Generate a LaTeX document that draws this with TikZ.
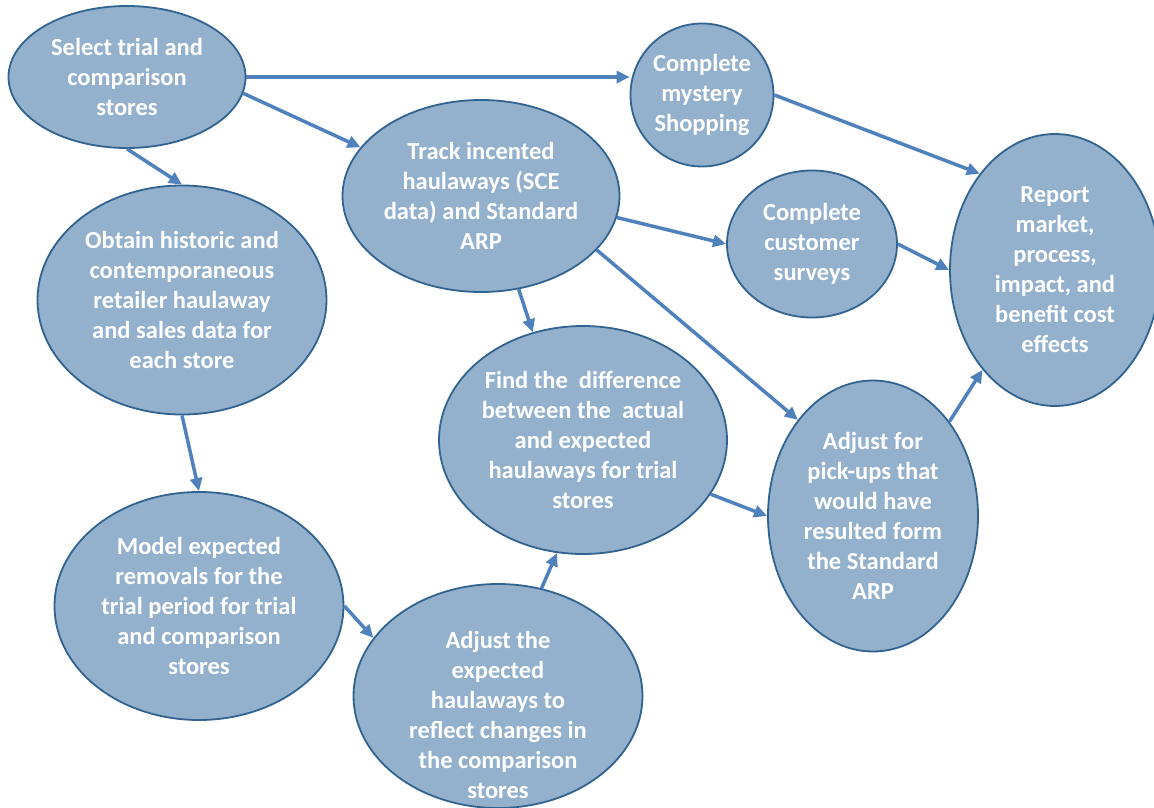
\documentclass[tikz,border=0pt]{standalone}
\usepackage{fontspec}
\setmainfont{Carlito}
\usepackage{xcolor}
\usepackage{tikz}
\usetikzlibrary{arrows.meta,shapes.geometric}
\definecolor{stepfill}{RGB}{147,176,204}
\definecolor{stepline}{RGB}{49,99,145}
\definecolor{flowblue}{RGB}{79,129,189}

\begin{document}
\begin{tikzpicture}[x=1pt, y=-1pt]
    \tikzstyle{bubble}=[ellipse, draw=stepline, line width=1.8pt, fill=stepfill, text=white, align=center, inner sep=0pt, font=\bfseries\fontsize{24.5}{30}\selectfont]
    \tikzstyle{flow}=[draw=flowblue, line width=3.5pt, -{Triangle[length=13pt, width=12pt]}]
    \useasboundingbox (0,0) rectangle (1154,808);
    \node[bubble, minimum width=237pt, minimum height=142pt] (select) at (127,77) {Select trial and\\comparison\\stores};
    \node[bubble, minimum width=143pt, minimum height=143pt] (shop) at (702,95) {Complete\\mystery\\Shopping};
    \node[bubble, minimum width=277pt, minimum height=192pt] (track) at (481,196) {Track incented\\haulaways (SCE\\data) and Standard\\ARP};
    \node[bubble, minimum width=170pt, minimum height=147pt] (survey) at (812,244) {Complete\\customer\\surveys};
    \node[bubble, minimum width=210pt, minimum height=272pt] (report) at (1055,270) {Report\\market,\\process,\\impact, and\\benefit cost\\effects};
    \node[bubble, minimum width=289pt, minimum height=229pt] (obtain) at (182,300) {Obtain historic and\\contemporaneous\\retailer haulaway\\and sales data for\\each store};
    \node[bubble, minimum width=288pt, minimum height=228pt] (diff) at (583,440) {Find the\ \ difference\\between the\ \ actual\\and expected\\haulaways for trial\\stores};
    \node[bubble, minimum width=210pt, minimum height=271pt] (pickup) at (873,516) {Adjust for\\pick-ups that\\would have\\resulted form\\the Standard\\ARP};
    \node[bubble, minimum width=289pt, minimum height=228pt] (model) at (199,606) {Model expected\\removals for the\\trial period for trial\\and comparison\\stores};
    % text runs past the bottom of this one
    \node[bubble, minimum width=289pt, minimum height=224pt] (adjust) at (498,696) {\raisebox{-28pt}[0pt][0pt]{\begin{tabular}{@{}c@{}}Adjust the\\expected\\haulaways to\\reflect changes in\\the comparison\\stores\end{tabular}}};
    \draw[flow] (select.east) -- (select.east -| shop.west);
    \draw[flow] (select.-8) -- (track.158);
    \draw[flow] (select.south) -- (obtain.north);
    \draw[flow] (shop.east) -- (report.128);
    \draw[flow] (track.-9) -- (survey.west);
    \draw[flow] (track.-68) -- (diff.115);
    \draw[flow] (track.-25) -- (pickup.128);
    \draw[flow] (survey.east) -- (report.west);
    \draw[flow] (obtain.south) -- (model.north);
    \draw[flow] (model.east) -- (adjust.155);
    \draw[flow] (adjust.68) -- (diff.-103);
    \draw[flow] (diff.-23) -- (pickup.west);
    \draw[flow] (pickup.51) -- (report.-126);
\end{tikzpicture}
\end{document}
